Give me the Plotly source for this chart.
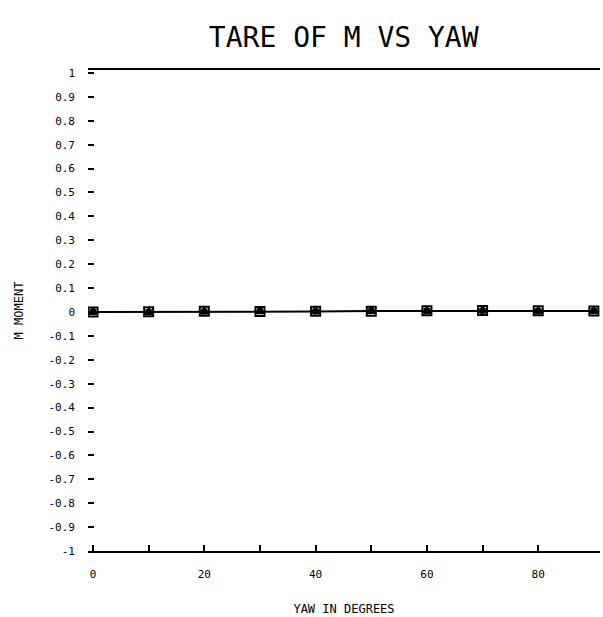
import plotly.graph_objects as go

# ---- data ----
yaw_deg = [0, 10, 20, 30, 40, 50, 60, 70, 80, 90]
moment_a = [0.0, 0.0, 0.002, 0.003, 0.002, 0.004, 0.004, 0.005, 0.004, 0.004]
moment_b = [0.0, 0.001, 0.003, 0.002, 0.003, 0.003, 0.005, 0.006, 0.005, 0.004]
moment_c = [0.001, 0.0, 0.002, 0.003, 0.004, 0.004, 0.005, 0.007, 0.005, 0.005]

y_tickvals = [1, 0.9, 0.8, 0.7, 0.6, 0.5, 0.4, 0.3, 0.2, 0.1, 0,
              -0.1, -0.2, -0.3, -0.4, -0.5, -0.6, -0.7, -0.8, -0.9, -1]
y_ticktext = ["1", "0.9", "0.8", "0.7", "0.6", "0.5", "0.4", "0.3", "0.2", "0.1", "0",
              "-0.1", "-0.2", "-0.3", "-0.4", "-0.5", "-0.6", "-0.7", "-0.8", "-0.9", "-1"]
x_tickvals = [0, 10, 20, 30, 40, 50, 60, 70, 80]
x_ticktext = ["0", "", "20", "", "40", "", "60", "", "80"]

FONT = "DejaVu Sans Mono"

fig = go.Figure()
fig.add_trace(go.Scatter(x=yaw_deg, y=moment_a, mode="lines+markers",
                         line=dict(color="black", width=2),
                         marker=dict(symbol="square", size=6, color="black")))
fig.add_trace(go.Scatter(x=yaw_deg, y=moment_b, mode="markers",
                         marker=dict(symbol="square-open", size=9, color="black",
                                     line=dict(width=2, color="black"))))
fig.add_trace(go.Scatter(x=yaw_deg, y=moment_c, mode="markers",
                         marker=dict(symbol="triangle-up-open", size=8, color="black",
                                     line=dict(width=1.5, color="black"))))

fig.update_layout(
    width=603, height=617,
    margin=dict(l=88, r=3, t=70, b=64),
    paper_bgcolor="white", plot_bgcolor="white",
    showlegend=False,
    font=dict(family=FONT, color="black", size=11),
    title=dict(text="TARE OF M VS YAW", x=0.57, xanchor="center", y=0.94, yanchor="middle",
               font=dict(family=FONT, size=28, color="black")),
    xaxis=dict(range=[-0.9, 91.1], showgrid=False, zeroline=False,
               showline=True, mirror=True, linecolor="black", linewidth=2,
               tickvals=x_tickvals, ticktext=x_ticktext,
               ticks="inside", ticklen=6, tickwidth=2, tickcolor="black",
               ticklabelstandoff=12,
               tickfont=dict(family=FONT, size=11),
               title=dict(text="YAW IN DEGREES", standoff=24,
                          font=dict(family=FONT, size=12))),
    yaxis=dict(range=[-1.0, 1.0125], showgrid=False, zeroline=False, showline=False,
               tickvals=y_tickvals, ticktext=y_ticktext,
               ticks="inside", ticklen=6, tickwidth=2, tickcolor="black",
               ticklabelstandoff=12,
               tickfont=dict(family=FONT, size=11),
               title=dict(text="M MOMENT", standoff=22,
                          font=dict(family=FONT, size=12))),
)

fig.write_html("out.html")
